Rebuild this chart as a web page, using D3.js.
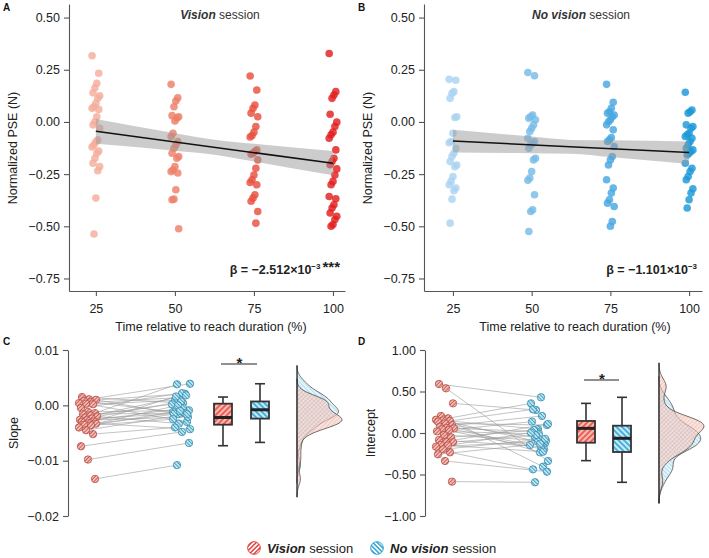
<!DOCTYPE html>
<html>
<head>
<meta charset="utf-8">
<script src="https://cdn.jsdelivr.net/npm/d3@7"></script>
<style>
body{margin:0;background:#fff;}
text{font-family:"Liberation Sans",Arial,sans-serif;}
</style>
</head>
<body>
<div id="chart"></div>
<script>
// time points (% of reach duration)
const timePoints = [25, 50, 75, 100];
const pseTicks = [0.5, 0.25, 0, -0.25, -0.5, -0.75];

// normalized PSE, vision session
const vis25 = [0.317, 0.233, 0.185, 0.164, 0.14, 0.125, 0.113, 0.089, 0.073, 0.065, 0.06, 0.025, 0.001, -0.014, -0.03, -0.086, -0.095, -0.110, -0.12, -0.139, -0.150, -0.174, -0.198, -0.214, -0.234, -0.365, -0.537];
const vis50 = [0.180, 0.116, 0.100, 0.073, 0.03, 0.025, 0.018, 0.005, -0.054, -0.07, -0.094, -0.11, -0.126, -0.15, -0.166, -0.174, -0.214, -0.23, -0.238, -0.245, -0.325, -0.37, -0.373, -0.512];
const vis75 = [0.220, 0.153, 0.081, 0.065, 0.042, 0.025, -0.022, -0.049, -0.065, -0.072, -0.134, -0.142, -0.150, -0.155, -0.182, -0.222, -0.254, -0.277, -0.290, -0.301, -0.349, -0.365, -0.380, -0.429, -0.485];
const vis100 = [0.328, 0.145, 0.129, 0.113, 0.037, -0.001, -0.022, -0.049, -0.062, -0.078, -0.134, -0.174, -0.190, -0.205, -0.225, -0.254, -0.285, -0.301, -0.357, -0.368, -0.397, -0.412, -0.436, -0.452, -0.468, -0.492, -0.500];

// normalized PSE, no vision session
const novis25 = [0.204, 0.200, 0.145, 0.137, 0.113, 0.025, 0.021, -0.054, -0.094, -0.100, -0.126, -0.150, -0.165, -0.190, -0.206, -0.215, -0.262, -0.285, -0.301, -0.317, -0.330, -0.370, -0.485];
const novis50 = [0.237, 0.221, 0.033, 0.025, 0.018, 0.010, -0.014, -0.030, -0.046, -0.078, -0.094, -0.102, -0.110, -0.126, -0.174, -0.182, -0.238, -0.269, -0.280, -0.349, -0.421, -0.429, -0.525];
const novis75 = [0.180, 0.094, 0.065, 0.049, 0.042, 0.033, 0.025, 0.010, 0.001, -0.014, -0.038, -0.075, -0.086, -0.094, -0.118, -0.166, -0.182, -0.206, -0.277, -0.317, -0.341, -0.373, -0.389, -0.405, -0.477, -0.500];
const novis100 = [0.142, 0.057, 0.049, 0.042, -0.014, -0.022, -0.030, -0.054, -0.062, -0.070, -0.078, -0.094, -0.110, -0.126, -0.134, -0.142, -0.150, -0.158, -0.198, -0.222, -0.238, -0.262, -0.277, -0.320, -0.341, -0.373, -0.412];

// regression fit + confidence band (read at these time points)
const bandTimes = [25, 50, 62.5, 75, 100];
const visFit = [-0.045, -0.198];
const visBandLo = [-0.105, -0.138, -0.157, -0.189, -0.256];
const visBandHi = [0.014, -0.054, -0.085, -0.105, -0.139];
const novisFit = [-0.091, -0.147];
const novisBandLo = [-0.147, -0.150, -0.152, -0.168, -0.201];
const novisBandHi = [-0.038, -0.070, -0.086, -0.088, -0.094];

// per participant slopes (index = participant)
const slopeVision = [0.0015, 0.0011, 0.0010, 0.0008, 0.0006, 0.0004, 0.0003, 0.0002, -0.0005, -0.0012, -0.0014, -0.0016, -0.0018, -0.0020, -0.0022, -0.0024, -0.0026, -0.0027, -0.0029, -0.0030, -0.0032, -0.0033, -0.0035, -0.0036, -0.0040, -0.0045, -0.0052, -0.0074, -0.0098, -0.0133];
const slopeNoVision = [0.0004, 0.0039, -0.0016, 0.0021, -0.0012, 0.0014, -0.0030, 0.0009, 0.0022, -0.0009, 0.0038, -0.0014, 0.0002, -0.0033, 0.0018, -0.0015, 0.0007, -0.0021, 0.0016, -0.0005, -0.0043, 0.0000, -0.0014, -0.0025, -0.0010, -0.0016, -0.0040, -0.0048, -0.0068, -0.0108];
const slopeTicks = [0.01, 0, -0.01, -0.02];
// box stats: [low whisker, q1, median, q3, high whisker]
const slopeBoxVision = [-0.0073, -0.0035, -0.0022, 0.0003, 0.0015];
const slopeBoxNoVision = [-0.0067, -0.0024, -0.0008, 0.0007, 0.0039];

// per participant intercepts
const interVision = [0.590, 0.538, 0.357, 0.205, 0.177, 0.160, 0.150, 0.145, 0.137, 0.116, 0.095, 0.076, 0.060, 0.056, 0.044, 0.036, 0.020, -0.024, -0.052, -0.084, -0.105, -0.110, -0.145, -0.150, -0.165, -0.197, -0.233, -0.257, -0.337, -0.586];
const interNoVision = [0.430, -0.337, 0.277, -0.406, 0.357, 0.048, -0.124, 0.285, -0.233, 0.096, -0.052, 0.205, -0.145, 0.016, -0.197, 0.137, -0.010, -0.092, 0.036, -0.165, 0.110, -0.024, -0.225, 0.004, -0.105, -0.070, -0.438, -0.130, -0.466, -0.594];
const interTicks = [1, 0.5, 0, -0.5, -1];
const interBoxVision = [-0.333, -0.117, 0.056, 0.145, 0.357];
const interBoxNoVision = [-0.594, -0.229, -0.064, 0.088, 0.430];

const visColors = ["#f4ad9b", "#ee7f66", "#e94f3e", "#e21e1d"];
const novisColors = ["#a9d3f1", "#78bce8", "#48a7e0", "#1c99d8"];

const svg = d3.select("#chart").append("svg")
  .attr("width", 709)
  .attr("height", 558);

// hatch patterns
const defs = svg.append("defs");
function hatch(id, bg, fg, angle, size, sw) {
  const p = defs.append("pattern")
    .attr("id", id)
    .attr("patternUnits", "userSpaceOnUse")
    .attr("width", size).attr("height", size)
    .attr("patternTransform", `rotate(${angle})`);
  p.append("rect").attr("width", size).attr("height", size).attr("fill", bg);
  p.append("line").attr("x1", size / 2).attr("x2", size / 2).attr("y1", 0).attr("y2", size)
    .attr("stroke", fg).attr("stroke-width", sw);
}
hatch("ptRed", "#f6c6be", "#c9564e", 45, 2.6, 1);
hatch("ptBlue", "#c9ecf6", "#3f9cc0", -45, 2.6, 1);
hatch("boxRed", "#f7beb6", "#e8473f", 45, 4, 1.6);
hatch("boxBlue", "#c6ecf8", "#2a9fd2", -45, 4, 1.6);
hatch("denRed", "#f7cfc6", "#e39a8f", 45, 3, 0.8);
hatch("denBlue", "#d2eff8", "#6dbddb", -45, 3, 0.8);
hatch("legRed", "#ffffff", "#e2413a", 45, 3.2, 1.5);
hatch("legBlue", "#ffffff", "#2ea3cf", -45, 3.2, 1.5);

const jitTop = i => ((i * 7) % 9 - 4) * 0.95;
const jitBot = (i, s) => ((i * 7 + s) % 19) - 9;

function styleAxis(g) {
  g.attr("font-size", 12.5).attr("font-family", "Liberation Sans, Arial, sans-serif");
  g.selectAll("path, line").attr("stroke", "#555").attr("stroke-width", 1.1);
  g.selectAll("text").attr("fill", "#222");
}

function topPanel(cfg) {
  const x = d3.scaleLinear().domain(cfg.xDom).range(cfg.xRange);
  const y = d3.scaleLinear().domain([-0.81, 0.565]).range([291, 4]);
  const g = svg.append("g");

  cfg.cols.forEach(function (vals, k) {
    g.append("g").selectAll("circle")
      .data(vals)
      .enter()
      .append("circle")
      .attr("cx", (d, i) => x(timePoints[k]) + jitTop(i))
      .attr("cy", d => y(d))
      .attr("r", 3.8)
      .attr("fill", cfg.colors[k])
      .attr("fill-opacity", 0.82);
  });

  // confidence band
  const band = bandTimes.map((t, i) => ({ t: t, lo: cfg.lo[i], hi: cfg.hi[i] }));
  g.append("path")
    .datum(band)
    .attr("d", d3.area().x(d => x(d.t)).y0(d => y(d.lo)).y1(d => y(d.hi)).curve(d3.curveMonotoneX))
    .attr("fill", "#999")
    .attr("fill-opacity", 0.5);
  g.append("line")
    .attr("x1", x(25)).attr("x2", x(100))
    .attr("y1", y(cfg.fit[0])).attr("y2", y(cfg.fit[1]))
    .attr("stroke", "#111").attr("stroke-width", 1.5);

  const yAxis = d3.axisLeft(y).tickValues(pseTicks).tickFormat(d3.format(".2f"))
    .tickSize(5).tickSizeOuter(0).tickPadding(4);
  g.append("g").attr("transform", `translate(${cfg.xRange[0]},0)`).call(yAxis).call(styleAxis);
  const xAxis = d3.axisBottom(x).tickValues(timePoints).tickSize(5).tickSizeOuter(0).tickPadding(8);
  g.append("g").attr("transform", "translate(0,291)").call(xAxis).call(styleAxis);

  g.append("text")
    .attr("transform", `translate(${cfg.xRange[0] - 52},148) rotate(-90)`)
    .attr("text-anchor", "middle").attr("font-size", 12.5).attr("fill", "#222")
    .text("Normalized PSE (N)");
  g.append("text")
    .attr("x", cfg.xTitle).attr("y", 331)
    .attr("text-anchor", "middle").attr("font-size", 12.5).attr("fill", "#222")
    .text("Time relative to reach duration (%)");

  const title = g.append("text")
    .attr("x", cfg.titleX).attr("y", 18.5)
    .attr("text-anchor", "middle").attr("font-size", 12).attr("fill", "#333");
  title.append("tspan").attr("font-weight", "bold").attr("font-style", "italic").text(cfg.titleBold);
  title.append("tspan").text(" session");

  const beta = g.append("text")
    .attr("x", cfg.xRange[1] - 5).attr("y", 274)
    .attr("text-anchor", "end").attr("font-size", 12.5).attr("font-weight", "bold").attr("fill", "#222");
  beta.append("tspan").text(cfg.beta);
  beta.append("tspan").attr("font-size", 8).attr("dy", -5).text("−3");
  if (cfg.stars) beta.append("tspan").attr("font-size", 15).attr("dy", 3).attr("dx", 2).text(cfg.stars);

  svg.append("text").attr("x", cfg.letterX).attr("y", 11)
    .attr("font-size", 10).attr("font-weight", "bold").attr("fill", "#111").text(cfg.letter);
}

function kde(vals, bw, n) {
  const lo = d3.min(vals) - 3 * bw, hi = d3.max(vals) + 3 * bw;
  return d3.range(n + 1).map(function (i) {
    const v = lo + (hi - lo) * i / n;
    return [v, d3.mean(vals, s => Math.exp(-0.5 * ((v - s) / bw) ** 2)) / (bw * Math.sqrt(2 * Math.PI))];
  });
}

function bottomPanel(cfg) {
  const y = d3.scaleLinear().domain([cfg.ticks[cfg.ticks.length - 1], cfg.ticks[0]]).range([516, 350]);
  const g = svg.append("g");

  // paired lines
  g.append("g").selectAll("line")
    .data(cfg.red)
    .enter()
    .append("line")
    .attr("x1", (d, i) => cfg.redX + jitBot(i, 3))
    .attr("y1", d => y(d))
    .attr("x2", (d, i) => cfg.blueX + jitBot(i, 11))
    .attr("y2", (d, i) => y(cfg.blue[i]))
    .attr("stroke", "#9a9a9a").attr("stroke-width", 0.7).attr("stroke-opacity", 0.85);

  [[cfg.red, cfg.redX, 3, "url(#ptRed)", "#b5504a"], [cfg.blue, cfg.blueX, 11, "url(#ptBlue)", "#3a8fb0"]]
    .forEach(function (s) {
      g.append("g").selectAll("circle")
        .data(s[0])
        .enter()
        .append("circle")
        .attr("cx", (d, i) => s[1] + jitBot(i, s[2]))
        .attr("cy", d => y(d))
        .attr("r", 3.7)
        .attr("fill", s[3])
        .attr("stroke", s[4]).attr("stroke-width", 0.8);
    });

  // boxplots
  [[cfg.boxRed, cfg.boxRedX, "url(#boxRed)"], [cfg.boxBlue, cfg.boxBlueX, "url(#boxBlue)"]]
    .forEach(function (b) {
      const st = b[0], cx = b[1], w = 18;
      const bg = g.append("g").attr("stroke", "#333");
      bg.append("line").attr("x1", cx).attr("x2", cx).attr("y1", y(st[4])).attr("y2", y(st[0])).attr("stroke-width", 1.6);
      bg.append("line").attr("x1", cx - 5).attr("x2", cx + 5).attr("y1", y(st[4])).attr("y2", y(st[4])).attr("stroke-width", 1.6);
      bg.append("line").attr("x1", cx - 5).attr("x2", cx + 5).attr("y1", y(st[0])).attr("y2", y(st[0])).attr("stroke-width", 1.6);
      bg.append("rect").attr("x", cx - w / 2).attr("width", w)
        .attr("y", y(st[3])).attr("height", y(st[1]) - y(st[3]))
        .attr("fill", b[2]).attr("stroke-width", 1.8);
      bg.append("line").attr("x1", cx - w / 2).attr("x2", cx + w / 2).attr("y1", y(st[2])).attr("y2", y(st[2]))
        .attr("stroke-width", 3).attr("stroke", "#222");
    });

  // significance
  g.append("line").attr("x1", cfg.boxRedX - 2).attr("x2", cfg.boxBlueX - 3)
    .attr("y1", cfg.sigY).attr("y2", cfg.sigY).attr("stroke", "#222").attr("stroke-width", 1.1);
  g.append("text").attr("x", (cfg.boxRedX + cfg.boxBlueX) / 2 - 2).attr("y", cfg.sigY + 4)
    .attr("text-anchor", "middle").attr("font-size", 15).attr("font-weight", "bold").attr("fill", "#222").text("*");

  // half violin densities
  const dRed = kde(cfg.red, cfg.bw, 120), dBlue = kde(cfg.blue, cfg.bw, 120);
  const w = d3.scaleLinear().domain([0, d3.max(dRed.concat(dBlue), d => d[1])]).range([0, 45]);
  [[dBlue, "url(#denBlue)"], [dRed, "url(#denRed)"]].forEach(function (d) {
    g.append("path")
      .datum(d[0])
      .attr("d", d3.area().y(p => y(p[0])).x0(cfg.denX).x1(p => cfg.denX + w(p[1])).curve(d3.curveBasis))
      .attr("fill", d[1]).attr("fill-opacity", 0.6)
      .attr("stroke", "#333").attr("stroke-width", 0.7);
  });
  const allV = cfg.red.concat(cfg.blue);
  g.append("line").attr("x1", cfg.denX).attr("x2", cfg.denX)
    .attr("y1", y(d3.max(allV) + 3 * cfg.bw)).attr("y2", y(d3.min(allV) - 3 * cfg.bw))
    .attr("stroke", "#222").attr("stroke-width", 1);

  const yAxis = d3.axisLeft(y).tickValues(cfg.ticks).tickFormat(d3.format(".2f"))
    .tickSize(5).tickSizeOuter(0).tickPadding(4);
  g.append("g").attr("transform", `translate(${cfg.axisX},0)`).call(yAxis).call(styleAxis);

  g.append("text")
    .attr("transform", `translate(${cfg.titleX},433) rotate(-90)`)
    .attr("text-anchor", "middle").attr("font-size", 12.5).attr("fill", "#222")
    .text(cfg.title);
  svg.append("text").attr("x", cfg.letterX).attr("y", 345)
    .attr("font-size", 10).attr("font-weight", "bold").attr("fill", "#111").text(cfg.letter);
}

topPanel({
  letter: "A", letterX: 3,
  xDom: [16.5, 103.8], xRange: [69, 345], xTitle: 211,
  cols: [vis25, vis50, vis75, vis100], colors: visColors,
  fit: visFit, lo: visBandLo, hi: visBandHi,
  titleX: 220, titleBold: "Vision",
  beta: "β = −2.512×10", stars: "***"
});
topPanel({
  letter: "B", letterX: 358,
  xDom: [15.8, 104.1], xRange: [424, 702], xTitle: 575,
  cols: [novis25, novis50, novis75, novis100], colors: novisColors,
  fit: novisFit, lo: novisBandLo, hi: novisBandHi,
  titleX: 581, titleBold: "No vision",
  beta: "β = −1.101×10", stars: null
});

bottomPanel({
  letter: "C", letterX: 3, axisX: 68, title: "Slope", titleX: 18,
  ticks: slopeTicks, red: slopeVision, blue: slopeNoVision,
  redX: 88, blueX: 181, boxRed: slopeBoxVision, boxBlue: slopeBoxNoVision,
  boxRedX: 223, boxBlueX: 260, sigY: 364, denX: 297, bw: 0.0011
});
bottomPanel({
  letter: "D", letterX: 358, axisX: 425, title: "Intercept", titleX: 375,
  ticks: interTicks, red: interVision, blue: interNoVision,
  redX: 445, blueX: 539, boxRed: interBoxVision, boxBlue: interBoxNoVision,
  boxRedX: 586, boxBlueX: 622, sigY: 380, denX: 659, bw: 0.085
});

// legend
const legendItems = [
  { bold: "Vision", fill: "url(#legRed)", stroke: "#e2413a", x: 254 },
  { bold: "No vision", fill: "url(#legBlue)", stroke: "#2ea3cf", x: 377 }
];
const leg = svg.append("g").selectAll("g").data(legendItems).enter().append("g");
leg.append("circle").attr("cx", d => d.x).attr("cy", 548).attr("r", 6.3)
  .attr("fill", d => d.fill).attr("stroke", d => d.stroke).attr("stroke-width", 1);
const lt = leg.append("text").attr("x", d => d.x + 13).attr("y", 553)
  .attr("font-size", 13).attr("fill", "#222");
lt.append("tspan").attr("font-weight", "bold").attr("font-style", "italic").text(d => d.bold);
lt.append("tspan").text(" session");
</script>
</body>
</html>
